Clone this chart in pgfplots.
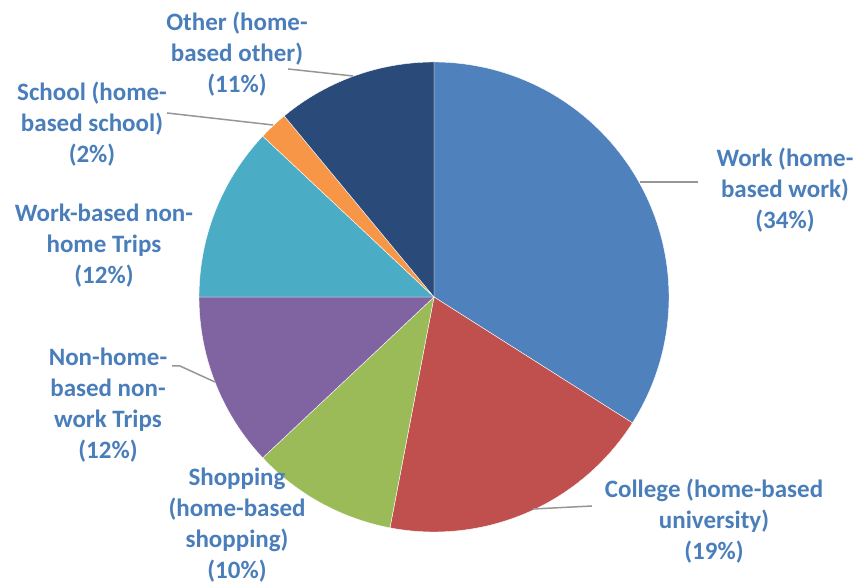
\documentclass[border=0pt]{standalone}
\usepackage{pgfplots}
\pgfplotsset{compat=1.18}
\usepackage{fontspec}
\setmainfont{Carlito}
\definecolor{cWork}{RGB}{79,129,189}
\definecolor{cCollege}{RGB}{192,80,77}
\definecolor{cShop}{RGB}{155,187,89}
\definecolor{cNonHome}{RGB}{128,100,162}
\definecolor{cWorkBased}{RGB}{75,172,198}
\definecolor{cSchool}{RGB}{247,150,70}
\definecolor{cOther}{RGB}{42,75,121}
\definecolor{labelblue}{RGB}{74,126,187}
\definecolor{leader}{RGB}{150,150,150}
% #1 cumulative percent before slice, #2 percent of slice, #3 colour
\newcommand{\pieslice}[3]{%
  \addplot[fill=#3, draw=white, line width=0.2pt, domain={90-3.6*(#1+#2)}:{90-3.6*#1}, samples=120, variable=\t]
    ({434+235*cos(\t)},{290+235*sin(\t)}) -- (axis cs:434,290) -- cycle;
}
\begin{document}
\begin{tikzpicture}
\begin{axis}[name=ax, scale only axis, width=427.5pt, height=293.5pt,
  xmin=0, xmax=855, ymin=0, ymax=587, hide axis, clip=false]
% slices: Work 34, College 19, Shopping 10, Non-home 12, Work-based 12, School 2, Other 11
\pieslice{0}{34}{cWork}
\pieslice{34}{19}{cCollege}
\pieslice{53}{10}{cShop}
\pieslice{63}{12}{cNonHome}
\pieslice{75}{12}{cWorkBased}
\pieslice{87}{2}{cSchool}
\pieslice{89}{11}{cOther}
% leader lines
\addplot[leader, line width=0.75pt] coordinates {(288,518) (353,511)};
\addplot[leader, line width=0.75pt] coordinates {(167,474) (273,462)};
\addplot[leader, line width=0.75pt] coordinates {(640,405) (698,405)};
\addplot[leader, line width=0.75pt] coordinates {(172,221) (180,221) (215,205)};
\addplot[leader, line width=0.75pt] coordinates {(533,78) (592,81)};
% labels
\tikzset{lab/.style={align=center, text=labelblue, font=\fontsize{12.5}{15.5}\selectfont\bfseries}}
\node[lab] at (axis cs:237,533) {Other (home-\\based other)\\(11\%)};
\node[lab] at (axis cs:92,463) {School (home-\\based school)\\(2\%)};
\node[lab] at (axis cs:104,341) {Work-based non-\\home Trips\\(12\%)};
\node[lab] at (axis cs:108,182) {Non-home-\\based non-\\work Trips\\(12\%)};
\node[lab] at (axis cs:237,62) {Shopping\\(home-based\\shopping)\\(10\%)};
\node[lab] at (axis cs:714,66) {College (home-based\\university)\\(19\%)};
\node[lab] at (axis cs:785,397) {Work (home-\\based work)\\(34\%)};
\end{axis}
\pgfresetboundingbox
\path (ax.south west) rectangle (ax.north east);
\end{tikzpicture}
\end{document}
